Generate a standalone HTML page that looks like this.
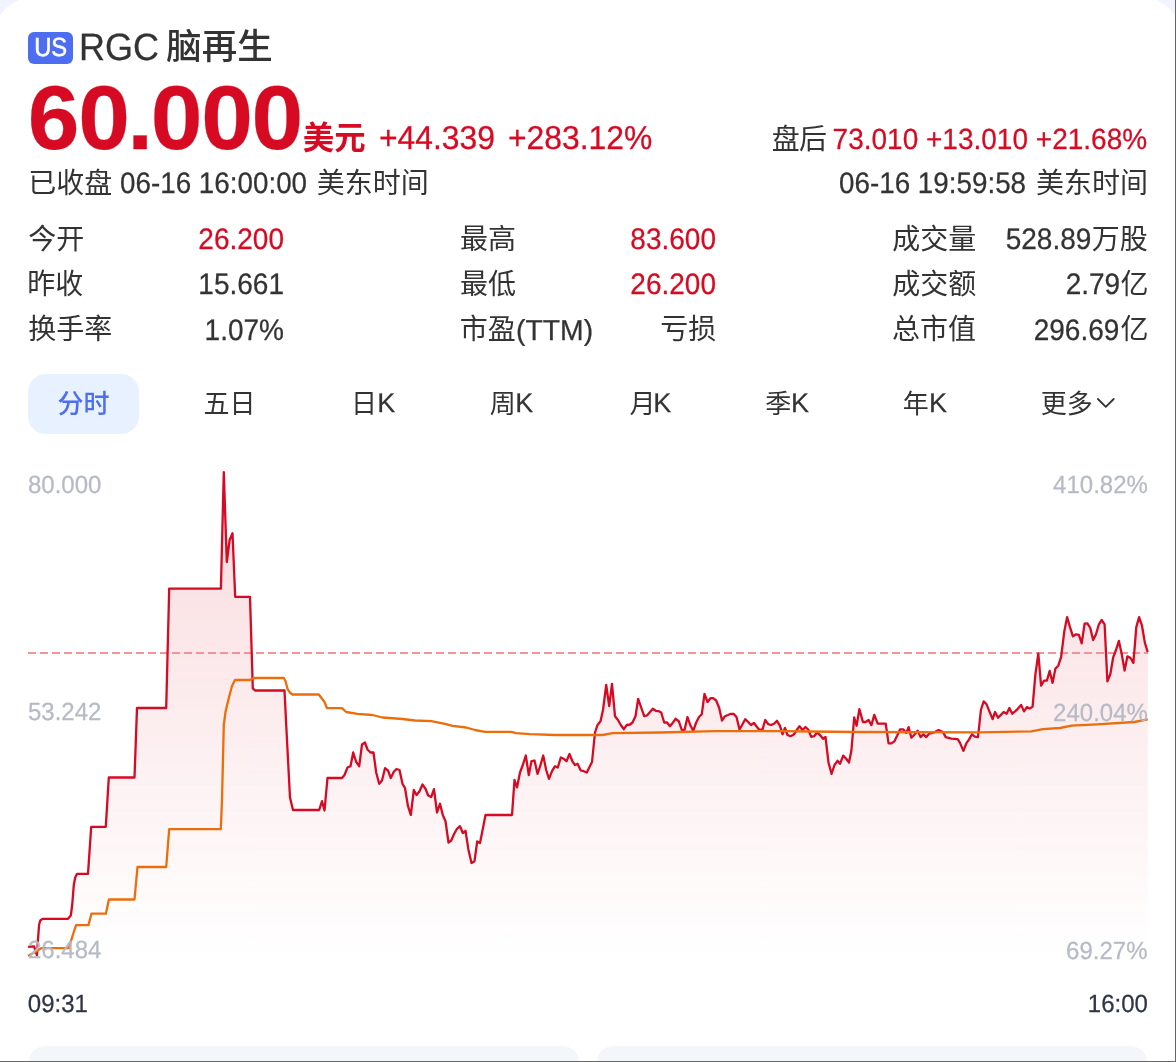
<!DOCTYPE html>
<html lang="zh-CN"><head><meta charset="utf-8"><title>RGC 脑再生</title>
<style>
html,body{margin:0;padding:0}
body{width:1176px;height:1062px;overflow:hidden;background:#f1f4ff;position:relative;font-family:"Liberation Sans",sans-serif}
/* white card: large-radius sheet slightly larger than the viewport (only its top corners show) */
.cardbg{position:absolute;left:-3.6px;top:-1.9px;width:1182.1px;height:1100px;background:#fff;border-radius:34.5px 34.5px 0 0}
.card{position:absolute;left:0;top:0;width:1176px;height:1062px;overflow:hidden;will-change:transform}
.edge-r{position:absolute;left:1175px;top:0;width:1px;height:1062px;background:#676767}
.edge-b{position:absolute;left:0;top:1061px;width:1176px;height:1px;background:#676767}
/* latin / numeric text: placed by ink edge + baseline */
.t{position:absolute;line-height:1;white-space:pre;font-family:"Liberation Sans",sans-serif;-webkit-text-stroke:0.25px currentColor;text-rendering:geometricPrecision}
/* CJK labels: real text */
.z{position:absolute;line-height:1;white-space:nowrap;font-family:"Liberation Sans","Noto Sans CJK SC",sans-serif}
.z span{display:block;position:relative;top:0.03em}
.badge{position:absolute;left:28px;top:32px;width:45px;height:32px;border-radius:6px;background:#4e6ef2}
.pill{position:absolute;left:28px;top:374px;width:111px;height:60px;border-radius:18px;background:#e8f1ff}
.chev{position:absolute;left:1096px;top:396px}
.chart{position:absolute;left:0;top:0}
.foot{position:absolute;top:1046px;width:552px;height:40px;border-radius:18px;background:#f5f6fa}
</style></head>
<body>
<div class="cardbg"></div>
<main class="card">
<header class="quote">
<div class="badge"></div>
<div class="t" style="left:33.75px;top:37.30px;font-size:24px;color:#fff;transform:scale(0.99,1.09);transform-origin:17.0px 19px;-webkit-text-stroke:0.5px #fff;">US</div>
<div class="t" style="left:79.00px;top:30.30px;font-size:36px;color:#333333;transform:scale(1.0,1.06);transform-origin:3.0px 30px;">RGC</div>
<div class="z" style="left:166.18px;top:29.06px;width:106.50px;height:35.5px;font-size:35.5px;font-weight:500;color:#333333"><span>脑再生</span></div>
<div class="t" style="left:27.90px;top:74.20px;font-size:89px;color:#d60a22;transform:scale(1.045,1.02);transform-origin:3.0px 75px;font-weight:700;letter-spacing:-1.25px;">6<span style="letter-spacing:-2.7px">0</span><span style="letter-spacing:-2.2px">.</span>000</div>
<div class="z" style="left:302.77px;top:121.67px;width:62.80px;height:31.4px;font-size:31.4px;font-weight:700;color:#d60a22"><span>美元</span></div>
<div class="t" style="left:378.70px;top:122.30px;font-size:32px;color:#d60a22;transform:scale(0.995,1.035);transform-origin:1.0px 27px;">+44.339</div>
<div class="t" style="left:507.60px;top:122.30px;font-size:32px;color:#d60a22;transform:scale(0.995,1.035);transform-origin:1.0px 27px;">+283.12%</div>
<div class="z" style="left:28.20px;top:168.96px;width:84.00px;height:28px;font-size:28px;color:#333333"><span>已收盘</span></div>
<div class="t" style="left:120.00px;top:169.90px;font-size:28px;color:#333333;transform:scale(0.993,1.06);transform-origin:1.0px 23px;">06-16 16:00:00</div>
<div class="z" style="left:316.65px;top:168.96px;width:112.00px;height:28px;font-size:28px;color:#333333"><span>美东时间</span></div>
<div class="z" style="left:771.67px;top:124.86px;width:54.60px;height:28px;font-size:28px;letter-spacing:-0.7px;color:#333333"><span>盘后</span></div>
<div class="t" style="left:832.60px;top:125.80px;font-size:28px;color:#d60a22;transform:scale(1.0,1.045);transform-origin:314.0px 23px;">73.010 +13.010 +21.68%</div>
<div class="t" style="left:839.30px;top:169.90px;font-size:28px;color:#333333;transform:scale(0.993,1.06);transform-origin:1.0px 23px;">06-16 19:59:58</div>
<div class="z" style="left:1036.04px;top:168.96px;width:112.00px;height:28px;font-size:28px;color:#333333"><span>美东时间</span></div>
</header>
<section class="stats">
<div class="z" style="left:28.32px;top:224.86px;width:56.00px;height:28px;font-size:28px;color:#333333"><span>今开</span></div>
<div class="t" style="left:198.36px;top:226.00px;font-size:28px;color:#d60a22;transform:scale(1.0,1.06);transform-origin:85.6px 23px;">26.200</div>
<div class="z" style="left:27.17px;top:269.86px;width:56.00px;height:28px;font-size:28px;color:#333333"><span>昨收</span></div>
<div class="t" style="left:198.36px;top:271.00px;font-size:28px;color:#333333;transform:scale(1.0,1.06);transform-origin:85.6px 23px;">15.661</div>
<div class="z" style="left:28.29px;top:315.36px;width:84.00px;height:28px;font-size:28px;color:#333333"><span>换手率</span></div>
<div class="t" style="left:204.61px;top:316.50px;font-size:28px;color:#333333;transform:scale(1.0,1.06);transform-origin:79.4px 23px;">1.07%</div>
<div class="z" style="left:459.98px;top:224.86px;width:56.00px;height:28px;font-size:28px;color:#333333"><span>最高</span></div>
<div class="t" style="left:630.36px;top:226.00px;font-size:28px;color:#d60a22;transform:scale(1.0,1.06);transform-origin:85.6px 23px;">83.600</div>
<div class="z" style="left:459.98px;top:269.86px;width:56.00px;height:28px;font-size:28px;color:#333333"><span>最低</span></div>
<div class="t" style="left:630.36px;top:271.00px;font-size:28px;color:#d60a22;transform:scale(1.0,1.06);transform-origin:85.6px 23px;">26.200</div>
<div class="z" style="left:459.87px;top:315.36px;width:56.00px;height:28px;font-size:28px;color:#333333"><span>市盈</span></div>
<div class="t" style="left:516.00px;top:316.50px;font-size:28px;color:#333333;transform:scale(1.012,1.03);transform-origin:2.0px 23px;">(TTM)</div>
<div class="z" style="left:660.31px;top:315.36px;width:56.00px;height:28px;font-size:28px;color:#333333"><span>亏损</span></div>
<div class="z" style="left:892.29px;top:224.86px;width:84.00px;height:28px;font-size:28px;color:#333333"><span>成交量</span></div>
<div class="z" style="left:1091.68px;top:224.86px;width:56.00px;height:28px;font-size:28px;color:#333333"><span>万股</span></div>
<div class="t" style="left:1005.70px;top:226.00px;font-size:28px;color:#333333;transform:scale(1.0,1.06);transform-origin:1.0px 23px;">528.89</div>
<div class="z" style="left:892.29px;top:269.86px;width:84.00px;height:28px;font-size:28px;color:#333333"><span>成交额</span></div>
<div class="z" style="left:1120.44px;top:269.86px;width:28.00px;height:28px;font-size:28px;color:#333333"><span>亿</span></div>
<div class="t" style="left:1065.70px;top:271.00px;font-size:28px;color:#333333;transform:scale(1.0,1.06);transform-origin:1.0px 23px;">2.79</div>
<div class="z" style="left:892.10px;top:315.36px;width:84.00px;height:28px;font-size:28px;color:#333333"><span>总市值</span></div>
<div class="z" style="left:1120.44px;top:315.36px;width:28.00px;height:28px;font-size:28px;color:#333333"><span>亿</span></div>
<div class="t" style="left:1033.70px;top:316.50px;font-size:28px;color:#333333;transform:scale(1.0,1.06);transform-origin:1.0px 23px;">296.69</div>
</section>
<nav class="tabs">
<div class="pill"></div>
<div class="z" style="left:57.39px;top:389.92px;width:52.00px;height:26px;font-size:26px;font-weight:500;color:#4e6ef2"><span>分时</span></div>
<div class="z" style="left:203.54px;top:389.92px;width:52.00px;height:26px;font-size:26px;color:#333333"><span>五日</span></div>
<div class="z" style="left:351.02px;top:389.92px;width:26.00px;height:26px;font-size:26px;color:#333333"><span>日</span></div>
<div class="t" style="left:377.20px;top:390.40px;font-size:27px;color:#333333;transform:scale(1.0,1.0);transform-origin:17.0px 22px;">K</div>
<div class="z" style="left:489.64px;top:389.92px;width:26.00px;height:26px;font-size:26px;color:#333333"><span>周</span></div>
<div class="t" style="left:515.20px;top:390.40px;font-size:27px;color:#333333;transform:scale(1.0,1.0);transform-origin:17.0px 22px;">K</div>
<div class="z" style="left:629.45px;top:389.92px;width:26.00px;height:26px;font-size:26px;color:#333333"><span>月</span></div>
<div class="t" style="left:653.20px;top:390.40px;font-size:27px;color:#333333;transform:scale(1.0,1.0);transform-origin:17.0px 22px;">K</div>
<div class="z" style="left:765.31px;top:389.92px;width:26.00px;height:26px;font-size:26px;color:#333333"><span>季</span></div>
<div class="t" style="left:791.00px;top:390.40px;font-size:27px;color:#333333;transform:scale(1.0,1.0);transform-origin:17.0px 22px;">K</div>
<div class="z" style="left:902.65px;top:389.92px;width:26.00px;height:26px;font-size:26px;color:#333333"><span>年</span></div>
<div class="t" style="left:929.10px;top:390.40px;font-size:27px;color:#333333;transform:scale(1.0,1.0);transform-origin:17.0px 22px;">K</div>
<div class="z" style="left:1040.78px;top:389.92px;width:52.00px;height:26px;font-size:26px;color:#333333"><span>更多</span></div>
<svg class="chev" width="22" height="16" viewBox="0 0 22 16" aria-hidden="true"><path d="M1.9 3.0 L9.8 10.8 L17.7 3.0" fill="none" stroke="#333333" stroke-width="1.8" stroke-linecap="round" stroke-linejoin="round"/></svg>
</nav>
<section class="chartwrap">
<svg class="chart" width="1176" height="1062" viewBox="0 0 1176 1062" aria-hidden="true">
<defs><linearGradient id="fillg" gradientUnits="userSpaceOnUse" x1="0" y1="472" x2="0" y2="958">
<stop offset="0" stop-color="#d60a22" stop-opacity="0.15"/><stop offset="1" stop-color="#d60a22" stop-opacity="0"/></linearGradient></defs>
<path d="M28.1 946.8 L34.0 946.3 L37.0 955.3 L37.9 940.8 L39.1 924.7 L40.3 920.5 L42.5 918.8 L68.0 918.8 L70.8 915.5 L72.2 905.0 L73.8 885.0 L75.2 877.5 L77.0 873.8 L88.0 873.8 L91.2 826.8 L105.8 826.8 L108.8 777.5 L134.5 777.5 L137.0 708.0 L166.2 708.0 L169.2 588.6 L220.9 588.6 L223.8 472.2 L226.8 562.0 L229.6 540.0 L232.5 533.2 L235.2 596.8 L250.0 596.8 L252.8 688.4 L255.0 690.5 L284.5 690.5 L287.2 744.0 L290.0 797.5 L293.0 810.0 L319.2 810.0 L322.0 801.2 L324.5 810.5 L327.5 778.0 L342.0 778.0 L344.5 775.0 L347.5 767.5 L350.5 766.2 L353.2 752.5 L356.2 762.0 L359.2 766.2 L362.0 744.5 L365.0 742.5 L367.5 749.5 L370.5 752.5 L373.5 752.5 L376.2 772.5 L379.2 783.8 L382.0 780.5 L385.0 768.2 L388.0 770.5 L390.8 778.0 L393.8 771.8 L396.5 769.0 L399.5 770.0 L402.5 783.8 L405.0 788.0 L408.0 806.2 L410.8 815.0 L413.8 790.0 L416.5 795.0 L419.5 791.2 L422.5 784.5 L425.5 788.8 L428.2 795.5 L431.2 797.0 L434.0 789.2 L437.0 812.5 L440.0 803.8 L442.8 815.0 L445.5 821.2 L448.5 842.5 L451.2 840.5 L454.2 833.8 L457.0 828.8 L460.0 826.2 L462.8 833.0 L465.5 830.8 L468.5 850.0 L471.5 863.0 L474.5 861.2 L477.2 841.5 L480.0 843.0 L482.8 829.0 L485.5 815.0 L512.0 815.0 L514.5 780.0 L517.0 787.5 L520.0 772.5 L522.8 765.0 L525.8 755.5 L528.8 775.0 L531.5 761.2 L534.5 760.5 L537.5 773.8 L540.2 766.2 L543.2 755.5 L546.2 770.0 L549.0 778.8 L552.0 771.2 L555.0 766.2 L557.8 767.5 L560.8 757.5 L563.8 758.8 L566.5 761.2 L569.5 754.0 L572.5 761.5 L575.0 765.0 L577.5 763.8 L580.8 770.5 L583.8 771.2 L586.8 772.5 L589.5 767.0 L592.0 762.0 L595.0 732.5 L597.5 725.0 L600.5 721.2 L603.0 710.0 L606.2 685.0 L609.2 706.2 L612.0 683.8 L615.0 716.2 L618.0 720.0 L620.8 725.0 L623.8 729.2 L626.8 725.0 L630.0 724.5 L632.5 722.5 L635.5 716.2 L638.2 698.8 L641.2 707.5 L644.2 716.2 L647.0 715.5 L650.0 712.0 L652.8 708.8 L655.8 710.8 L658.8 711.2 L661.2 712.5 L664.2 722.5 L667.0 722.5 L670.0 726.2 L673.0 722.5 L675.5 718.8 L678.8 721.2 L681.8 730.0 L684.5 730.0 L687.5 717.0 L690.2 725.0 L693.2 730.8 L696.2 722.5 L699.0 717.0 L701.8 714.2 L704.5 693.8 L707.5 702.0 L710.5 698.2 L713.2 698.2 L716.2 700.5 L719.2 708.0 L722.0 720.5 L725.0 716.2 L728.0 715.0 L730.8 713.8 L733.8 714.0 L736.5 717.0 L739.5 729.5 L742.5 724.2 L745.2 719.2 L748.2 722.0 L751.0 725.0 L754.0 723.0 L757.0 727.0 L759.5 730.0 L762.5 729.5 L765.2 720.0 L768.2 724.2 L771.2 725.0 L774.0 723.8 L777.0 720.8 L780.0 725.8 L782.5 734.2 L785.0 728.0 L787.5 735.0 L790.5 736.2 L793.8 734.5 L796.8 730.0 L799.5 726.2 L802.5 730.0 L805.5 727.0 L808.2 729.5 L811.2 736.8 L814.2 736.2 L817.0 732.5 L820.0 735.0 L823.0 738.8 L825.5 737.0 L828.5 762.5 L831.5 773.8 L834.5 765.0 L837.5 760.8 L840.0 763.8 L843.2 755.6 L846.2 758.8 L849.0 762.5 L851.4 750.5 L854.2 717.5 L856.6 725.7 L859.4 709.1 L862.9 722.0 L865.7 722.0 L868.6 720.0 L871.4 725.1 L874.3 714.9 L877.7 723.7 L885.7 723.7 L888.6 743.4 L891.4 743.4 L894.3 741.4 L897.1 735.7 L900.0 729.4 L903.4 729.4 L906.3 732.9 L908.6 727.1 L911.4 737.7 L914.9 734.3 L917.7 730.6 L920.6 737.1 L923.4 734.3 L926.3 737.1 L929.1 733.7 L934.3 732.3 L938.6 730.0 L942.9 732.0 L945.7 737.1 L951.4 738.6 L957.7 739.1 L960.0 742.9 L963.4 750.9 L966.3 743.4 L969.1 739.4 L972.0 734.3 L974.9 736.6 L978.0 737.1 L980.9 710.0 L983.7 701.4 L986.6 704.3 L989.4 711.4 L992.6 719.1 L995.1 712.0 L998.0 717.7 L1000.9 714.9 L1003.7 712.0 L1006.6 713.7 L1009.4 708.0 L1012.3 713.7 L1015.1 711.4 L1018.0 708.6 L1021.1 704.9 L1024.0 711.4 L1026.9 707.1 L1029.7 708.6 L1032.6 706.6 L1035.4 674.3 L1038.3 653.7 L1041.1 685.7 L1044.0 680.6 L1046.9 680.6 L1049.7 670.9 L1052.6 682.9 L1055.4 668.6 L1058.3 665.7 L1061.1 657.1 L1064.3 631.4 L1067.1 617.1 L1070.0 627.1 L1072.9 636.3 L1076.0 634.3 L1078.9 634.9 L1081.7 643.4 L1084.6 623.7 L1087.4 623.4 L1090.3 628.0 L1093.1 640.0 L1096.0 634.3 L1098.9 624.3 L1101.7 620.0 L1104.6 624.3 L1107.4 681.4 L1110.3 674.3 L1113.1 657.7 L1116.0 650.0 L1118.9 640.9 L1121.7 653.7 L1124.6 670.6 L1127.4 656.3 L1130.6 658.0 L1133.4 662.9 L1136.3 627.1 L1139.1 617.1 L1142.0 625.7 L1144.9 642.9 L1147.7 652.0 L1147.7 958 L28.1 958 Z" fill="url(#fillg)"/>
<line x1="28" y1="653" x2="1148" y2="653" stroke="#f69494" stroke-width="2" stroke-dasharray="8 4"/>
<path d="M28.1 946.8 L34.0 946.3 L37.0 955.3 L37.9 940.8 L39.1 924.7 L40.3 920.5 L42.5 918.8 L68.0 918.8 L70.8 915.5 L72.2 905.0 L73.8 885.0 L75.2 877.5 L77.0 873.8 L88.0 873.8 L91.2 826.8 L105.8 826.8 L108.8 777.5 L134.5 777.5 L137.0 708.0 L166.2 708.0 L169.2 588.6 L220.9 588.6 L223.8 472.2 L226.8 562.0 L229.6 540.0 L232.5 533.2 L235.2 596.8 L250.0 596.8 L252.8 688.4 L255.0 690.5 L284.5 690.5 L287.2 744.0 L290.0 797.5 L293.0 810.0 L319.2 810.0 L322.0 801.2 L324.5 810.5 L327.5 778.0 L342.0 778.0 L344.5 775.0 L347.5 767.5 L350.5 766.2 L353.2 752.5 L356.2 762.0 L359.2 766.2 L362.0 744.5 L365.0 742.5 L367.5 749.5 L370.5 752.5 L373.5 752.5 L376.2 772.5 L379.2 783.8 L382.0 780.5 L385.0 768.2 L388.0 770.5 L390.8 778.0 L393.8 771.8 L396.5 769.0 L399.5 770.0 L402.5 783.8 L405.0 788.0 L408.0 806.2 L410.8 815.0 L413.8 790.0 L416.5 795.0 L419.5 791.2 L422.5 784.5 L425.5 788.8 L428.2 795.5 L431.2 797.0 L434.0 789.2 L437.0 812.5 L440.0 803.8 L442.8 815.0 L445.5 821.2 L448.5 842.5 L451.2 840.5 L454.2 833.8 L457.0 828.8 L460.0 826.2 L462.8 833.0 L465.5 830.8 L468.5 850.0 L471.5 863.0 L474.5 861.2 L477.2 841.5 L480.0 843.0 L482.8 829.0 L485.5 815.0 L512.0 815.0 L514.5 780.0 L517.0 787.5 L520.0 772.5 L522.8 765.0 L525.8 755.5 L528.8 775.0 L531.5 761.2 L534.5 760.5 L537.5 773.8 L540.2 766.2 L543.2 755.5 L546.2 770.0 L549.0 778.8 L552.0 771.2 L555.0 766.2 L557.8 767.5 L560.8 757.5 L563.8 758.8 L566.5 761.2 L569.5 754.0 L572.5 761.5 L575.0 765.0 L577.5 763.8 L580.8 770.5 L583.8 771.2 L586.8 772.5 L589.5 767.0 L592.0 762.0 L595.0 732.5 L597.5 725.0 L600.5 721.2 L603.0 710.0 L606.2 685.0 L609.2 706.2 L612.0 683.8 L615.0 716.2 L618.0 720.0 L620.8 725.0 L623.8 729.2 L626.8 725.0 L630.0 724.5 L632.5 722.5 L635.5 716.2 L638.2 698.8 L641.2 707.5 L644.2 716.2 L647.0 715.5 L650.0 712.0 L652.8 708.8 L655.8 710.8 L658.8 711.2 L661.2 712.5 L664.2 722.5 L667.0 722.5 L670.0 726.2 L673.0 722.5 L675.5 718.8 L678.8 721.2 L681.8 730.0 L684.5 730.0 L687.5 717.0 L690.2 725.0 L693.2 730.8 L696.2 722.5 L699.0 717.0 L701.8 714.2 L704.5 693.8 L707.5 702.0 L710.5 698.2 L713.2 698.2 L716.2 700.5 L719.2 708.0 L722.0 720.5 L725.0 716.2 L728.0 715.0 L730.8 713.8 L733.8 714.0 L736.5 717.0 L739.5 729.5 L742.5 724.2 L745.2 719.2 L748.2 722.0 L751.0 725.0 L754.0 723.0 L757.0 727.0 L759.5 730.0 L762.5 729.5 L765.2 720.0 L768.2 724.2 L771.2 725.0 L774.0 723.8 L777.0 720.8 L780.0 725.8 L782.5 734.2 L785.0 728.0 L787.5 735.0 L790.5 736.2 L793.8 734.5 L796.8 730.0 L799.5 726.2 L802.5 730.0 L805.5 727.0 L808.2 729.5 L811.2 736.8 L814.2 736.2 L817.0 732.5 L820.0 735.0 L823.0 738.8 L825.5 737.0 L828.5 762.5 L831.5 773.8 L834.5 765.0 L837.5 760.8 L840.0 763.8 L843.2 755.6 L846.2 758.8 L849.0 762.5 L851.4 750.5 L854.2 717.5 L856.6 725.7 L859.4 709.1 L862.9 722.0 L865.7 722.0 L868.6 720.0 L871.4 725.1 L874.3 714.9 L877.7 723.7 L885.7 723.7 L888.6 743.4 L891.4 743.4 L894.3 741.4 L897.1 735.7 L900.0 729.4 L903.4 729.4 L906.3 732.9 L908.6 727.1 L911.4 737.7 L914.9 734.3 L917.7 730.6 L920.6 737.1 L923.4 734.3 L926.3 737.1 L929.1 733.7 L934.3 732.3 L938.6 730.0 L942.9 732.0 L945.7 737.1 L951.4 738.6 L957.7 739.1 L960.0 742.9 L963.4 750.9 L966.3 743.4 L969.1 739.4 L972.0 734.3 L974.9 736.6 L978.0 737.1 L980.9 710.0 L983.7 701.4 L986.6 704.3 L989.4 711.4 L992.6 719.1 L995.1 712.0 L998.0 717.7 L1000.9 714.9 L1003.7 712.0 L1006.6 713.7 L1009.4 708.0 L1012.3 713.7 L1015.1 711.4 L1018.0 708.6 L1021.1 704.9 L1024.0 711.4 L1026.9 707.1 L1029.7 708.6 L1032.6 706.6 L1035.4 674.3 L1038.3 653.7 L1041.1 685.7 L1044.0 680.6 L1046.9 680.6 L1049.7 670.9 L1052.6 682.9 L1055.4 668.6 L1058.3 665.7 L1061.1 657.1 L1064.3 631.4 L1067.1 617.1 L1070.0 627.1 L1072.9 636.3 L1076.0 634.3 L1078.9 634.9 L1081.7 643.4 L1084.6 623.7 L1087.4 623.4 L1090.3 628.0 L1093.1 640.0 L1096.0 634.3 L1098.9 624.3 L1101.7 620.0 L1104.6 624.3 L1107.4 681.4 L1110.3 674.3 L1113.1 657.7 L1116.0 650.0 L1118.9 640.9 L1121.7 653.7 L1124.6 670.6 L1127.4 656.3 L1130.6 658.0 L1133.4 662.9 L1136.3 627.1 L1139.1 617.1 L1142.0 625.7 L1144.9 642.9 L1147.7 652.0" fill="none" stroke="#d60a22" stroke-width="2.3" stroke-linejoin="round"/>
<path d="M28.1 956.1 L41.3 948.2 L68.9 948.2 L72.5 936.0 L76.1 925.1 L88.5 925.1 L91.4 913.7 L105.9 913.7 L108.9 899.5 L134.5 899.5 L137.5 867.0 L166.2 867.0 L169.2 829.2 L220.8 829.2 L222.0 800.0 L223.8 725.0 L225.5 712.0 L228.8 698.0 L232.0 686.0 L235.0 680.0 L250.0 680.0 L253.8 678.0 L283.8 678.0 L285.5 681.0 L287.5 688.8 L289.8 692.5 L292.5 694.5 L318.8 694.5 L321.5 698.0 L324.5 702.0 L327.0 708.2 L342.0 708.2 L346.2 712.0 L357.5 713.8 L372.5 715.0 L382.5 717.5 L402.5 719.0 L415.0 720.5 L431.2 721.2 L445.0 723.8 L452.5 725.8 L466.2 727.5 L475.0 730.0 L485.0 731.8 L511.2 731.8 L516.2 733.2 L530.0 734.2 L555.0 735.0 L602.5 735.0 L612.5 733.2 L660.0 732.5 L715.0 731.2 L785.0 731.2 L810.0 731.5 L854.0 732.0 L980.0 732.3 L1031.4 731.4 L1042.9 729.1 L1060.0 728.0 L1071.4 725.7 L1097.1 724.3 L1134.3 722.0 L1147.7 719.4" fill="none" stroke="#ec6d0b" stroke-width="2.3" stroke-linejoin="round"/>
</svg>
<div class="t" style="left:28.00px;top:473.50px;font-size:24px;color:#b6bac4;transform:scale(1.0,1.035);transform-origin:1.0px 19px;">80.000</div>
<div class="t" style="left:28.00px;top:701.00px;font-size:24px;color:#b6bac4;transform:scale(1.0,1.035);transform-origin:1.0px 19px;">53.242</div>
<div class="t" style="left:28.00px;top:939.20px;font-size:24px;color:#b6bac4;transform:scale(1.0,1.035);transform-origin:1.0px 19px;">26.484</div>
<div class="t" style="left:1053.10px;top:473.60px;font-size:24px;color:#b6bac4;transform:scale(1.0,1.035);transform-origin:94.0px 19px;">410.82%</div>
<div class="t" style="left:1053.10px;top:701.50px;font-size:24px;color:#b6bac4;transform:scale(1.0,1.035);transform-origin:94.0px 19px;">240.04%</div>
<div class="t" style="left:1066.10px;top:939.60px;font-size:24px;color:#b6bac4;transform:scale(1.0,1.035);transform-origin:81.0px 19px;">69.27%</div>
<div class="t" style="left:27.80px;top:993.00px;font-size:24px;color:#2f3445;transform:scale(1.0,1.035);transform-origin:1.0px 19px;">09:31</div>
<div class="t" style="left:1087.80px;top:993.00px;font-size:24px;color:#2f3445;transform:scale(1.0,1.035);transform-origin:59.0px 19px;">16:00</div>
</section>
<div class="foot" style="left:28px"></div><div class="foot" style="left:596px"></div>
</main>
<div class="edge-r"></div><div class="edge-b"></div>
</body></html>
